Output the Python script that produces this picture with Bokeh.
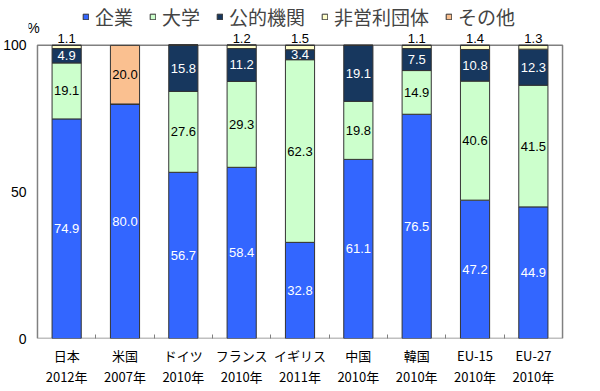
from bokeh.plotting import figure
from bokeh.models import ColumnDataSource, FixedTicker, Legend, LegendItem, Range1d
from bokeh.core.properties import value
from bokeh.embed import file_html
from bokeh.resources import INLINE

countries = ["日本", "米国", "ドイツ", "フランス", "イギリス", "中国", "韓国", "EU-15", "EU-27"]
years = ["2012年", "2007年", "2010年", "2010年", "2011年", "2010年", "2010年", "2010年", "2010年"]
business = [74.9, 80.0, 56.7, 58.4, 32.8, 61.1, 76.5, 47.2, 44.9]
university = [19.1, 0, 27.6, 29.3, 62.3, 19.8, 14.9, 40.6, 41.5]
public = [4.9, 0, 15.8, 11.2, 3.4, 19.1, 7.5, 10.8, 12.3]
nonprofit = [1.1, 0, 0, 1.2, 1.5, 0, 1.1, 1.4, 1.3]
other = [0, 20.0, 0, 0, 0, 0, 0, 0, 0]
series_names = ["企業", "大学", "公的機関", "非営利団体", "その他"]
colors = ["#3366FF", "#CCFFCC", "#17375E", "#FFFFCC", "#FAC090"]
label_colors = ["white", "black", "white", None, "black"]
y_ticks = [0, 50, 100]
y_max = 100

keys = ["business", "university", "public", "nonprofit", "other"]
values = [business, university, public, nonprofit, other]
n = len(countries)
xs = list(range(n))
data = {"x": xs}
for k, v in zip(keys, values):
    data[k] = v
source = ColumnDataSource(data)

p = figure(width=596, height=388, output_backend="svg", toolbar_location=None,
           x_range=Range1d(-0.654, n - 0.432), y_range=Range1d(0, 115.3),
           min_border_left=27, min_border_right=30, min_border_top=0, min_border_bottom=49)
p.outline_line_color = None
p.grid.visible = False
p.background_fill_color = "white"
p.border_fill_color = "white"

# plot box (0..100 %)
p.quad(left=[-0.5], right=[n - 0.5], bottom=[0], top=[y_max],
       fill_color=None, line_color="#808080", line_width=1.5)

rs = p.vbar_stack(keys, x="x", width=0.5, source=source, color=colors,
                  line_color="#333333", line_width=1)

# axes
p.yaxis.ticker = FixedTicker(ticks=y_ticks)
p.yaxis.axis_line_color = None
p.yaxis.major_tick_line_color = None
p.yaxis.major_tick_out = 0
p.yaxis.major_tick_in = 0
p.yaxis.minor_tick_line_color = None
p.yaxis.major_label_text_font = "Liberation Sans"
p.yaxis.major_label_text_font_size = "14px"
p.yaxis.major_label_text_color = "black"
p.yaxis.major_label_standoff = 2

p.xaxis.ticker = FixedTicker(ticks=xs, minor_ticks=[i + 0.5 for i in xs[:-1]])
p.xaxis.major_label_overrides = {i: f"{c}\n{y}" for i, (c, y) in enumerate(zip(countries, years))}
p.xaxis.axis_line_color = None
p.xaxis.major_tick_line_color = None
p.xaxis.major_tick_out = 0
p.xaxis.major_tick_in = 0
p.xaxis.minor_tick_line_color = "#808080"
p.xaxis.minor_tick_in = 4
p.xaxis.minor_tick_out = 0
p.xaxis.major_label_text_font = "Noto Sans CJK JP"
p.xaxis.major_label_text_font_size = "13px"
p.xaxis.major_label_text_color = "black"
p.xaxis.major_label_text_line_height = 1.12
p.xaxis.major_label_standoff = 7

# segment labels
for idx, (k, v) in enumerate(zip(keys, values)):
    lc = label_colors[idx]
    lx, ly, lt = [], [], []
    for i in xs:
        if v[i] <= 0:
            continue
        bottom = sum(values[j][i] for j in range(idx))
        lx.append(i)
        ly.append(102.4 if lc is None else bottom + v[i] / 2)
        lt.append(f"{v[i]:.1f}")
    src = ColumnDataSource(dict(x=lx, y=ly, t=lt))
    p.text(x="x", y="y", text="t", source=src, text_align="center",
           text_baseline="middle", text_font=value("Liberation Sans"),
           text_font_size="13px", text_color=lc if lc else "black")

p.text(x=[-0.568], y=[105.8], text=["%"], text_align="center", text_baseline="middle",
       text_font=value("Liberation Sans"), text_font_size="14px", text_color="black")

legend = Legend(items=[LegendItem(label=nm, renderers=[r]) for nm, r in zip(series_names, rs)],
                orientation="horizontal", location=(54, 308),
                glyph_width=7, glyph_height=7, label_standoff=6, spacing=16,
                padding=0, margin=0, border_line_color=None, background_fill_alpha=0,
                label_text_font="Noto Sans CJK JP", label_text_font_size="19px",
                label_height=20)
p.add_layout(legend, "center")

open("out.html", "w").write(file_html(p, INLINE))
